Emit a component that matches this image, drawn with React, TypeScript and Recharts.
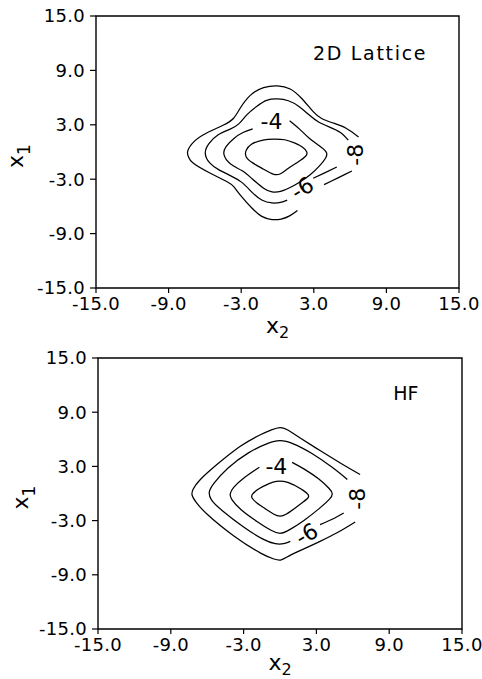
import React from 'react';
import { LineChart, Line, XAxis, YAxis, ReferenceArea, ReferenceDot } from 'recharts';

type Pt = { x: number; y: number };
const pts = (rows: number[][]): Pt[] => rows.map(([x, y]) => ({ x, y }));

const FONT = '"DejaVu Sans", sans-serif';
const axisTicks = [-15, -9, -3, 3, 9, 15];

// 2D Lattice panel: contour segments (gaps where the labels sit)
const latticeInner = pts([[-0.25, 1.42], [0.6, 1.35], [1.4, 1.0], [2.05, 0.55], [2.42, 0.0], [2.3, -0.5], [1.7, -1.1], [0.9, -1.8], [0.25, -2.4], [-0.35, -2.45], [-1.15, -1.9], [-2.05, -1.2], [-2.58, -0.55], [-2.6, 0.15], [-2.15, 0.85], [-1.2, 1.32], [-0.25, 1.42]]);
const lattice4 = pts([[1.0, 3.45], [1.8, 2.55], [2.6, 1.55], [3.4, 0.75], [4.0, 0.05], [4.0, -0.6], [3.45, -1.55], [2.7, -2.5], [1.85, -3.3], [1.0, -3.95], [0.25, -4.35], [-0.45, -4.4], [-1.15, -4.0], [-2.1, -2.95], [-2.95, -2.05], [-3.9, -1.3], [-4.42, -0.3], [-4.25, 0.6], [-3.6, 1.5], [-2.85, 2.15], [-2.05, 2.55]]);
const lattice6a = pts([[5.85, 1.3], [5.2, 2.15], [4.3, 2.75], [3.4, 3.3], [2.6, 4.1], [1.8, 5.0], [0.9, 5.65], [0, 5.85], [-0.9, 5.7], [-1.7, 5.05], [-2.5, 4.15], [-3.2, 3.1], [-3.95, 2.5], [-4.9, 1.9], [-5.65, 0.95], [-5.97, -0.1], [-5.6, -1.2], [-4.8, -2.0], [-3.9, -2.6], [-2.95, -3.35], [-2.1, -4.45], [-1.3, -5.3], [-0.45, -5.62], [0.25, -5.55], [0.8, -5.3]]);
const lattice6b = pts([[2.95, -2.9], [3.9, -2.3], [4.9, -1.65]]);
const lattice8a = pts([[6.7, 1.65], [5.7, 2.6], [4.6, 3.2], [3.65, 3.7], [2.95, 4.45], [2.0, 5.9], [1.05, 6.95], [0, 7.3], [-1.15, 7.1], [-2.25, 6.25], [-3.1, 4.8], [-3.65, 3.7], [-4.5, 2.95], [-5.85, 2.1], [-6.9, 1.15], [-7.42, 0.1], [-7.35, -0.55], [-6.95, -1.25], [-5.55, -2.35], [-4.2, -3.25], [-3.6, -3.85], [-2.95, -4.95], [-2.1, -6.2], [-1.3, -7.1], [-0.45, -7.45], [0.3, -7.4], [1.0, -7.05], [1.65, -6.45]]);
const lattice8b = pts([[3.85, -3.6], [5.0, -2.85], [6.15, -2.1]]);

// HF panel
const hfInner = pts([[1.2, 0.92], [1.85, 0.4], [2.3, -0.1], [2.3, -0.5], [1.85, -1.0], [1.2, -1.65], [0.5, -2.3], [0, -2.5], [-0.5, -2.3], [-1.2, -1.7], [-1.9, -1.05], [-2.3, -0.5], [-2.25, -0.05], [-1.7, 0.55], [-0.9, 1.1], [-0.3, 1.35], [0.3, 1.35], [0.7, 1.2], [1.2, 0.92]]);
const hf4 = pts([[1.0, 3.45], [2.0, 2.7], [3.2, 1.6], [4.05, 0.55], [4.3, 0.0], [4.1, -0.6], [3.2, -1.7], [2.0, -2.95], [0.8, -4.0], [0.05, -4.4], [-0.7, -4.1], [-1.9, -3.1], [-3.2, -1.8], [-3.95, -0.7], [-4.1, -0.05], [-3.8, 0.7], [-2.9, 1.8], [-1.7, 2.9]]);
const hf6a = pts([[5.55, 1.55], [4.3, 2.9], [2.6, 4.45], [1.1, 5.5], [0, 5.85], [-1.0, 5.55], [-2.6, 4.5], [-4.3, 2.8], [-5.4, 1.2], [-5.82, 0.2], [-5.65, -0.7], [-4.75, -1.9], [-3.0, -3.7], [-1.4, -5.05], [-0.4, -5.55], [0.3, -5.55], [0.85, -5.3]]);
const hf6b = pts([[3.3, -3.45], [4.3, -2.85], [5.25, -2.15]]);
const hf8 = pts([[6.6, 2.1], [5.0, 3.35], [3.3, 4.75], [1.6, 6.2], [0.6, 7.05], [0, 7.3], [-0.7, 7.05], [-1.7, 6.45], [-3.3, 5.2], [-5.2, 3.2], [-6.6, 1.5], [-7.15, 0.5], [-7.25, -0.15], [-6.95, -0.9], [-6.0, -2.3], [-3.8, -4.7], [-1.6, -6.6], [-0.5, -7.25], [0.1, -7.35], [0.9, -6.8], [2.1, -6.05], [3.3, -5.3], [4.7, -4.35], [6.2, -3.15]]);

type Tag = { text: string; x: number; y: number; angle: number; size: number; spacing?: number };

const latticeTags: Tag[] = [
  { text: '2D Lattice', x: 7.65, y: 10.9, angle: 0, size: 19, spacing: 1.7 },
  { text: '-4', x: -0.5, y: 3.4, angle: 0, size: 22 },
  { text: '-6', x: 2.05, y: -4.0, angle: -32, size: 22 },
  { text: '-8', x: 6.42, y: -0.3, angle: -90, size: 22 },
];
const hfTags: Tag[] = [
  { text: 'HF', x: 10.37, y: 11.13, angle: 0, size: 19 },
  { text: '-4', x: -0.3, y: 3.0, angle: 0, size: 22 },
  { text: '-6', x: 2.2, y: -4.5, angle: -30, size: 22 },
  { text: '-8', x: 6.35, y: -0.58, angle: -90, size: 22 },
];

const tagRenderer = (t: Tag) => (props: any) => {
  const vb = props.viewBox || { x: 0, y: 0, width: 0, height: 0 };
  const cx = vb.x + (vb.width || 0) / 2;
  const cy = vb.y + (vb.height || 0) / 2;
  return (
    <text
      x={cx}
      y={cy}
      textAnchor="middle"
      dominantBaseline="central"
      fontSize={t.size}
      letterSpacing={t.spacing || 0}
      fontFamily={FONT}
      fill="#000"
      transform={t.angle ? `rotate(${t.angle} ${cx} ${cy})` : undefined}
    >
      {t.text}
    </text>
  );
};

const xLabel = (dyBase: number) => (props: any) => {
  const vb = props.viewBox || { x: 0, y: 0, width: 0 };
  const cx = vb.x + vb.width / 2;
  return (
    <text x={cx} y={vb.y + dyBase} textAnchor="middle" fontSize={22} fontFamily={FONT} fill="#000">
      x<tspan fontSize={16} dy={5}>2</tspan>
    </text>
  );
};

const yLabel = (bx: number) => (props: any) => {
  const vb = props.viewBox || { x: 0, y: 0, height: 0 };
  const cy = vb.y + vb.height / 2 + 4;
  return (
    <text x={bx} y={cy} textAnchor="middle" fontSize={22} fontFamily={FONT} fill="#000" transform={`rotate(-90 ${bx} ${cy})`}>
      x<tspan fontSize={17} dy={7}>1</tspan>
    </text>
  );
};

const fmt = (v: number) => v.toFixed(1);
const tickStyle = { fill: '#000', fontSize: 18, fontFamily: FONT, letterSpacing: 0.3 };

type PanelProps = {
  segs: Pt[][];
  tags: Tag[];
  height: number;
  top: number;
  right: number;
  yWidth: number;
  xHeight: number;
  xLabelY: number;
  yLabelX: number;
};

function Panel({ segs, tags, height, top, right, yWidth, xHeight, xLabelY, yLabelX }: PanelProps) {
  return (
    <LineChart width={482} height={height} margin={{ top, right, bottom: 0, left: 0 }}>
      <XAxis
        type="number"
        dataKey="x"
        domain={[-15, 15]}
        ticks={axisTicks}
        interval={0}
        allowDataOverflow
        tickFormatter={fmt}
        axisLine={false}
        tickLine={{ stroke: '#000', strokeWidth: 1.2 }}
        tickSize={5}
        tickMargin={4}
        height={xHeight}
        tick={tickStyle}
        label={{ content: xLabel(xLabelY) } as any}
      />
      <YAxis
        type="number"
        domain={[-15, 15]}
        ticks={axisTicks}
        interval={0}
        allowDataOverflow
        tickFormatter={fmt}
        axisLine={false}
        tickLine={{ stroke: '#000', strokeWidth: 1.2 }}
        tickSize={6}
        tickMargin={5}
        width={yWidth}
        tick={tickStyle}
        label={{ content: yLabel(yLabelX) } as any}
      />
      <ReferenceArea x1={-15} x2={15} y1={-15} y2={15} fill="none" fillOpacity={0} stroke="#000" strokeWidth={1.4} />
      {segs.map((s, i) => (
        <Line
          key={i}
          data={s}
          dataKey="y"
          type="natural"
          stroke="#000"
          strokeWidth={1.25}
          dot={false}
          activeDot={false}
          isAnimationActive={false}
        />
      ))}
      {tags.map((t, i) => (
        <ReferenceDot key={'t' + i} x={t.x} y={t.y} r={0} fill="none" stroke="none" label={{ content: tagRenderer(t) } as any} />
      ))}
    </LineChart>
  );
}

export default function App() {
  return (
    <div style={{ position: 'absolute', left: 0, top: 0, width: 482, height: 679, background: '#fff', overflow: 'hidden' }}>
      <div style={{ position: 'absolute', left: 0, top: 0 }}>
        <Panel
          segs={[latticeInner, lattice4, lattice6a, lattice6b, lattice8a, lattice8b]}
          tags={latticeTags}
          height={345}
          top={16}
          right={23}
          yWidth={96}
          xHeight={57}
          xLabelY={45}
          yLabelX={23}
        />
      </div>
      <div style={{ position: 'absolute', left: 0, top: 340 }}>
        <Panel
          segs={[hfInner, hf4, hf6a, hf6b, hf8]}
          tags={hfTags}
          height={339}
          top={18}
          right={20}
          yWidth={98}
          xHeight={50}
          xLabelY={41}
          yLabelX={28}
        />
      </div>
    </div>
  );
}
